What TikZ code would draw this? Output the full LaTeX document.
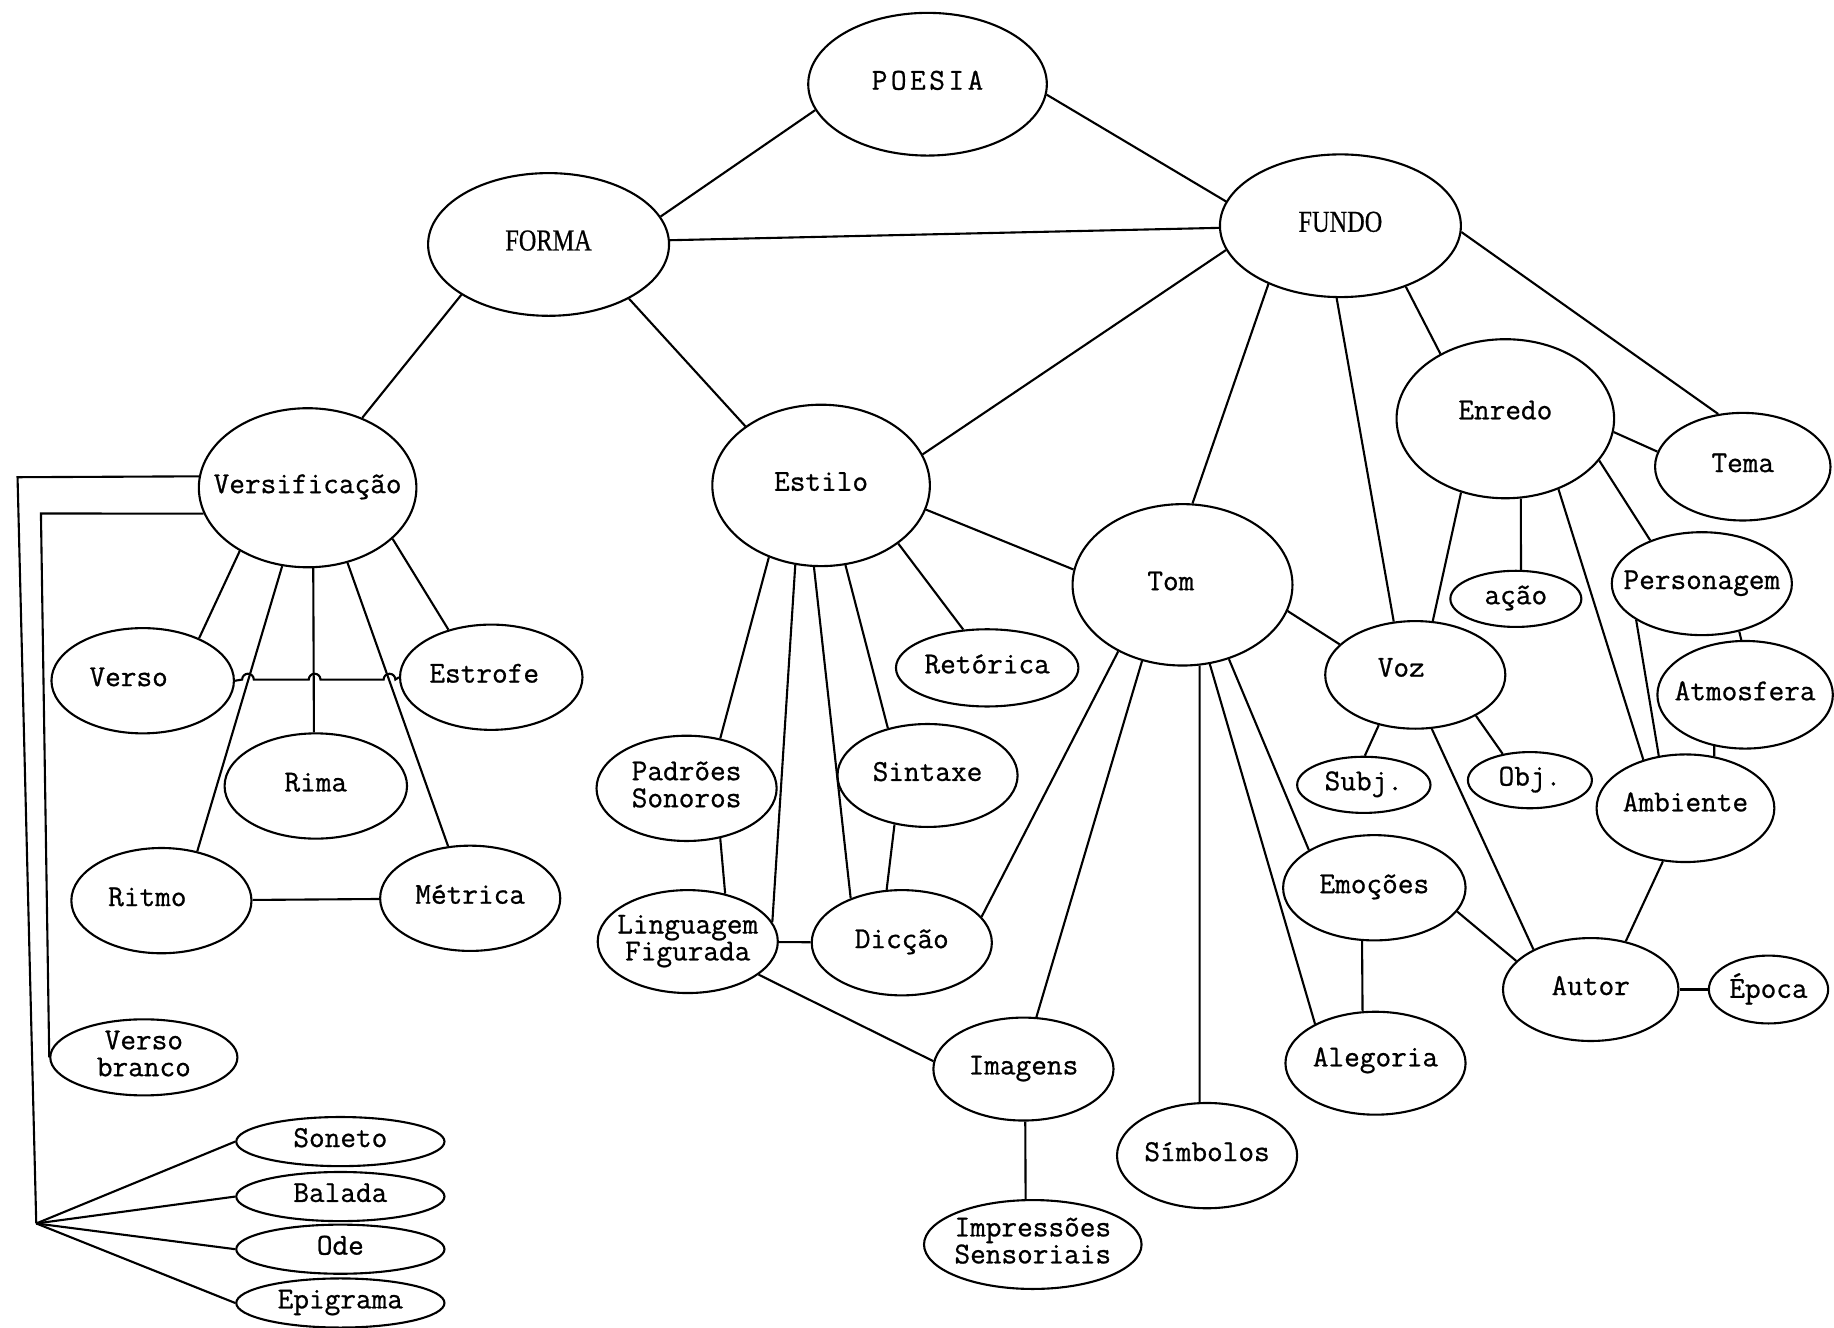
\documentclass[tikz,border=0pt]{standalone}
\usepackage{fontspec}
\usepackage{graphicx}
\newfontfamily\typefont[FakeBold=0.8]{Latin Modern Mono}
\newfontfamily\capsfont[FakeBold=0.6]{Liberation Serif}
\usetikzlibrary{shapes.geometric}
\newcommand\ovaltext[2][0pt]{\makebox[0pt]{\hspace*{#1}\begin{tabular}{@{}c@{}}#2\end{tabular}}}

\begin{document}
\begin{tikzpicture}[x=0.5pt, y=-0.5pt, line width=0.9pt,
    oval/.style 2 args={ellipse, draw, inner sep=0pt, minimum width=#1pt, minimum height=#2pt},
    every node/.style={font=\typefont\fontsize{13}{11.5}\selectfont}]
    \useasboundingbox (0,0) rectangle (1568,1135);

    \node[oval={102}{61}] (poesia) at (793,72) {\ovaltext{P\kern1.5pt O\kern1.5pt E\kern1.5pt S\kern1.5pt I\kern1.5pt A}};
    \node[oval={103}{61}] (forma) at (469,209) {\ovaltext{\capsfont\scalebox{0.8}[1]{FORMA}}};
    \node[oval={103}{61}] (fundo) at (1146,193) {\ovaltext{\capsfont\scalebox{0.8}[1]{FUNDO}}};

    \node[oval={93}{68}] (versif) at (263,417) {\ovaltext{Versificação}};
    \node[oval={78}{45}] (verso) at (122,582) {\ovaltext[-12pt]{Verso}};
    \node[oval={78}{45}] (estrofe) at (420,579) {\ovaltext[-6pt]{Estrofe}};
    \node[oval={78}{45}] (rima) at (270,672) {\ovaltext{Rima}};
    \node[oval={77}{45}] (ritmo) at (138,770) {\ovaltext[-12pt]{Ritmo}};
    \node[oval={77}{45}] (metrica) at (402,768) {\ovaltext{Métrica}};
    \node[oval={80}{32}] (vbranco) at (123,904) {\ovaltext{Verso\\branco}};

    \node[oval={93}{69}] (estilo) at (702,415) {\ovaltext{Estilo}};
    \node[oval={78}{33}] (retorica) at (844,571) {\ovaltext{Retórica}};
    \node[oval={77}{45}] (padroes) at (587,674) {\ovaltext{Padrões\\Sonoros}};
    \node[oval={77}{44}] (sintaxe) at (793,663) {\ovaltext{Sintaxe}};
    \node[oval={77}{44}] (linguagem) at (588,805) {\ovaltext{Linguagem\\Figurada}};
    \node[oval={77}{45}] (diccao) at (771,806) {\ovaltext{Dicção}};
    \node[oval={77}{44}] (imagens) at (875,914) {\ovaltext{Imagens}};
    \node[oval={93}{38}] (impress) at (883,1064) {\ovaltext{Impressões\\Sensoriais}};

    \node[oval={94}{69}] (tom) at (1011,500) {\ovaltext[-10pt]{Tom}};
    \node[oval={77}{45}] (simbolos) at (1032,988) {\ovaltext{Símbolos}};
    \node[oval={77}{44}] (alegoria) at (1176,909) {\ovaltext{\raisebox{2pt}{Alegoria}}};
    \node[oval={78}{45}] (emocoes) at (1175,759) {\ovaltext{Emoções}};
    \node[oval={77}{46}] (voz) at (1210,577) {\ovaltext[-12pt]{\raisebox{3pt}{Voz}}};
    \node[oval={57}{24}] (subj) at (1166,671) {\ovaltext{Subj.}};
    \node[oval={53}{24}] (obj) at (1308,667) {\ovaltext{Obj.}};

    \node[oval={93}{68}] (enredo) at (1287,358) {\ovaltext{\raisebox{4pt}{Enredo}}};
    \node[oval={75}{46}] (tema) at (1490,399) {\ovaltext{Tema}};
    \node[oval={56}{24}] (acao) at (1296,512) {\ovaltext{ação}};
    \node[oval={77}{44}] (personagem) at (1455,499) {\ovaltext{Personagem}};
    \node[oval={75}{46}] (atmosfera) at (1492,594) {\ovaltext{Atmosfera}};
    \node[oval={76}{46}] (ambiente) at (1441,691) {\ovaltext{\raisebox{2pt}{Ambiente}}};
    \node[oval={75}{44}] (autor) at (1360,846) {\ovaltext{Autor}};
    \node[oval={51}{29}] (epoca) at (1512,846) {\ovaltext{Época}};

    \foreach \a/\b in {poesia.193/forma.14, poesia.355/fundo.168, forma.2/fundo.181,
        forma.210/versif.52, forma.326/estilo.142,
        fundo.192/estilo.17, fundo.219/tom.83, fundo.267/voz.112,
        fundo.317/enredo.135, fundo.357/tema.115,
        enredo.353/tema.170, enredo.336/personagem.140, enredo.307/ambiente.131,
        enredo.281/acao.80, enredo.239/voz.72,
        personagem.308/atmosfera.94, personagem.209/ambiente.117, atmosfera.239/ambiente.61,
        ambiente.247/autor.54, autor/epoca,
        voz.234/subj.88, voz.326/obj.136, voz.287/autor.145,
        tom.346/voz.158, tom.302/emocoes.150, tom.289/alegoria.147, tom.282/simbolos.98,
        tom.242/imagens.76, tom.226/diccao.18,
        emocoes.257/alegoria.104, emocoes.344/autor.159,
        estilo.347/tom.172, estilo.323/retorica.122, estilo.287/sintaxe.130,
        estilo.265/diccao.139, estilo.252/linguagem.13, estilo.234/padroes.56,
        padroes.304/linguagem.52, sintaxe.236/diccao.106, linguagem/diccao,
        linguagem.335/imagens.175, imagens.272/impress.99,
        versif.223/verso.37, versif.252/ritmo.54, versif.274/rima.92,
        versif.298/metrica.113, versif.329/estrofe.132, ritmo/metrica}
        \draw (\a) -- (\b);

    \draw (verso.east) -- (207,581) arc[start angle=180, end angle=360, radius=5]
        -- (264,581) arc[start angle=180, end angle=360, radius=5]
        -- (328,581) arc[start angle=180, end angle=360, radius=5] -- (estrofe.west);

    \coordinate (fan) at (31,1046);
    \coordinate (outtop) at (15,408);
    \coordinate (intop) at (35,439);
    \draw (versif.174) -- (outtop) -- (fan);
    \draw (versif.194) -- (intop) -- (vbranco.west);

    \foreach \n/\t/\y in {soneto/Soneto/976, balada/Balada/1023, ode/Ode/1068, epigrama/Epigrama/1114} {
        \node[oval={89}{21}] (\n) at (291,\y) {\ovaltext{\t}};
        \draw (fan) -- (\n.west);
    }
\end{tikzpicture}
\end{document}
